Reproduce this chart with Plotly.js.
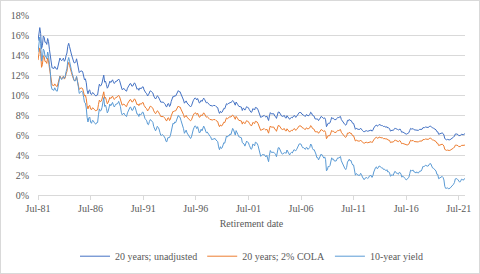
<!DOCTYPE html>
<html>
<head>
<meta charset="utf-8">
<script src="https://cdn.plot.ly/plotly-3.0.1.min.js"></script>
<style>
  html, body { margin: 0; padding: 0; background: #fff; }
  #wrap { position: relative; width: 480px; height: 274px; }
  #chart { width: 480px; height: 274px; }
  #frame { position: absolute; left: 0; top: 0; width: 478px; height: 272px; border: 1px solid #D9D9D9; pointer-events: none; }
</style>
</head>
<body>
<div id="wrap"><div id="chart"></div><div id="frame"></div></div>
<script>
// Monthly series, first month = July 1981
const startYear = 1981, startMonth = 7;

const seriesNames = ["20 years; unadjusted", "20 years; 2% COLA", "10-year yield"];

const unadjusted = [
15.42,15.99,16.74,16.17,14.64,14.93,
15.90,15.77,15.27,15.28,15.06,15.65,15.35,14.57,13.95,13.00,12.71,12.70,
12.64,12.85,12.68,12.59,12.57,12.95,13.29,13.70,13.52,13.43,13.56,13.68,
13.37,13.51,13.93,14.20,14.88,15.17,14.83,14.28,14.10,13.79,13.29,13.23,
13.21,13.32,13.62,13.25,12.79,12.24,12.36,12.37,12.41,12.30,11.93,11.52,
11.62,11.23,10.49,10.12,10.44,10.51,10.12,10.03,10.23,10.21,10.08,9.99,
9.89,10.01,10.01,10.61,11.08,10.91,10.95,11.20,11.73,11.99,11.28,11.38,
11.05,10.68,10.81,11.09,11.38,11.25,11.36,11.52,11.29,11.15,11.28,11.40,
11.38,11.45,11.60,11.45,11.20,10.73,10.53,10.60,10.66,10.52,10.41,10.38,
10.68,10.89,10.98,11.14,11.12,10.89,10.89,11.11,11.22,11.09,10.82,10.57,
10.66,10.47,10.68,10.62,10.65,10.81,10.81,10.51,10.31,10.21,10.13,9.90,
10.03,10.26,10.42,10.37,10.30,10.20,9.90,9.72,9.60,9.72,9.92,9.85,
9.73,9.49,9.29,9.28,9.33,9.28,9.17,9.08,8.85,8.83,9.11,9.14,
8.85,9.00,9.36,9.71,9.86,9.80,9.94,9.90,10.06,10.26,10.44,10.32,
10.33,10.10,9.91,9.81,9.50,9.18,9.26,9.41,9.20,9.09,9.01,8.85,
8.81,8.92,9.25,9.42,9.58,9.70,9.67,9.51,9.65,9.43,9.20,9.27,
9.47,9.36,9.55,9.69,9.56,9.41,9.21,9.27,9.21,9.08,8.97,8.92,
8.87,8.90,8.95,8.95,8.95,8.85,8.82,8.73,8.36,8.16,8.37,8.24,
8.29,8.49,8.66,8.62,8.87,9.13,9.05,9.16,9.14,9.28,9.22,9.40,
9.45,9.36,9.17,8.98,9.30,9.06,9.02,8.87,8.85,8.80,8.79,8.45,
8.68,8.63,8.49,8.66,8.84,8.76,8.73,8.54,8.37,8.26,8.32,8.63,
8.59,8.50,8.76,8.71,8.68,8.51,8.32,8.04,7.76,7.81,7.89,7.88,
7.96,7.86,7.79,7.90,7.62,7.45,7.91,8.24,8.12,8.13,8.14,8.12,
7.89,7.84,7.66,8.03,8.29,8.30,8.14,7.98,7.88,7.86,7.92,7.95,
7.73,7.69,7.93,7.81,7.67,7.57,7.70,7.76,7.71,7.90,7.95,7.91,
7.76,7.87,7.98,8.17,8.25,8.25,8.24,8.09,7.98,7.98,7.89,7.86,
8.04,8.01,7.90,7.99,8.03,8.28,8.21,7.98,7.87,7.88,7.61,7.57,
7.60,7.60,7.44,7.56,7.70,7.86,7.79,7.71,7.64,7.72,7.52,6.83,
6.97,7.18,7.15,7.21,7.46,7.76,7.65,7.67,7.54,7.53,7.54,7.67,
7.77,7.74,7.77,7.86,7.55,7.40,7.26,7.08,7.05,6.98,7.11,7.46,
7.42,7.56,7.44,7.47,7.26,7.16,7.16,6.76,6.57,6.67,6.59,6.57,
6.56,6.56,6.68,6.61,6.46,6.36,6.30,6.39,6.42,6.43,6.37,6.42,
6.47,6.51,6.50,6.38,6.48,6.70,6.86,6.95,7.00,6.88,6.94,7.05,
7.02,6.94,6.94,6.94,6.85,6.87,6.84,6.77,6.83,6.70,6.71,6.64,
6.39,6.45,6.49,6.43,6.58,6.67,6.65,6.56,6.56,6.50,6.61,6.60,
6.43,6.25,6.31,6.26,6.26,6.16,6.08,6.12,6.16,6.23,6.46,6.66,
6.60,6.59,6.63,6.52,6.52,6.46,6.53,6.47,6.46,6.56,6.55,6.58,
6.57,6.73,6.72,6.74,6.80,6.76,6.75,6.75,6.81,6.90,6.88,6.71,
6.70,6.68,6.62,6.60,6.52,6.33,6.32,6.07,6.11,6.12,6.18,6.21,
6.15,6.00,5.64,5.52,5.52,5.56,5.49,5.51,5.53,5.59,5.64,5.67,
5.79,5.89,6.10,6.11,6.10,6.05,5.93,5.91,5.96,6.08,6.07,6.02,
6.09,6.12
];

const cola = [
13.49,14.02,14.71,14.18,12.77,13.03,
13.93,13.81,13.35,13.36,13.16,13.70,13.42,12.70,12.13,11.25,10.99,10.98,
10.92,11.11,10.96,10.87,10.86,11.21,11.52,11.90,11.73,11.65,11.77,11.88,
11.59,11.72,12.11,12.36,12.99,13.26,12.94,12.43,12.27,11.98,11.52,11.46,
11.44,11.55,11.82,11.48,11.06,10.55,10.66,10.67,10.71,10.61,10.27,9.89,
9.98,9.63,8.95,8.61,8.90,8.96,8.61,8.52,8.71,8.69,8.57,8.49,
8.40,8.51,8.51,9.06,9.49,9.33,9.37,9.60,10.09,10.32,9.67,9.76,
9.46,9.12,9.24,9.50,9.76,9.64,9.75,9.89,9.68,9.55,9.67,9.78,
9.76,9.83,9.97,9.83,9.60,9.17,8.98,9.05,9.10,8.97,8.87,8.84,
9.12,9.31,9.40,9.54,9.52,9.31,9.31,9.52,9.62,9.50,9.25,9.02,
9.10,8.93,9.12,9.06,9.09,9.24,9.24,8.96,8.78,8.69,8.62,8.41,
8.52,8.73,8.88,8.84,8.77,8.68,8.41,8.24,8.13,8.24,8.42,8.36,
8.25,8.03,7.85,7.84,7.89,7.84,7.74,7.66,7.45,7.43,7.69,7.72,
7.45,7.59,7.92,8.23,8.37,8.32,8.44,8.41,8.55,8.73,8.90,8.79,
8.80,8.59,8.42,8.33,8.04,7.75,7.83,7.96,7.77,7.67,7.60,7.45,
7.42,7.52,7.82,7.97,8.12,8.22,8.20,8.05,8.18,7.98,7.77,7.83,
8.02,7.92,8.09,8.22,8.10,7.96,7.78,7.83,7.78,7.66,7.56,7.52,
7.47,7.50,7.54,7.54,7.54,7.45,7.43,7.34,7.01,6.83,7.02,6.90,
6.94,7.13,7.28,7.24,7.47,7.71,7.63,7.73,7.72,7.84,7.79,7.95,
8.00,7.92,7.74,7.57,7.86,7.64,7.61,7.47,7.45,7.41,7.40,7.09,
7.30,7.25,7.13,7.28,7.44,7.37,7.34,7.17,7.02,6.92,6.97,7.25,
7.22,7.14,7.37,7.33,7.30,7.14,6.97,6.72,6.46,6.51,6.58,6.57,
6.64,6.55,6.49,6.59,6.34,6.18,6.60,6.90,6.79,6.80,6.81,6.79,
6.58,6.54,6.37,6.71,6.94,6.95,6.81,6.66,6.57,6.55,6.61,6.64,
6.44,6.40,6.62,6.51,6.38,6.29,6.41,6.46,6.42,6.59,6.64,6.60,
6.46,6.56,6.66,6.84,6.91,6.91,6.90,6.76,6.66,6.66,6.58,6.55,
6.72,6.69,6.59,6.67,6.71,6.94,6.87,6.66,6.56,6.57,6.33,6.29,
6.32,6.32,6.17,6.28,6.41,6.55,6.49,6.42,6.35,6.43,6.25,5.63,
5.75,5.94,5.91,5.96,6.19,6.46,6.36,6.38,6.26,6.25,6.26,6.38,
6.47,6.44,6.47,6.55,6.27,6.14,6.01,5.85,5.82,5.76,5.88,6.19,
6.15,6.28,6.17,6.20,6.01,5.92,5.92,5.56,5.40,5.48,5.41,5.40,
5.39,5.39,5.49,5.43,5.30,5.21,5.16,5.24,5.26,5.27,5.22,5.26,
5.31,5.34,5.33,5.23,5.32,5.51,5.65,5.73,5.78,5.67,5.72,5.82,
5.80,5.72,5.72,5.72,5.64,5.66,5.64,5.57,5.63,5.51,5.52,5.46,
5.24,5.29,5.32,5.27,5.40,5.48,5.47,5.39,5.39,5.33,5.43,5.42,
5.27,5.11,5.16,5.12,5.12,5.03,4.96,5.00,5.03,5.09,5.30,5.48,
5.42,5.41,5.45,5.35,5.35,5.30,5.36,5.31,5.30,5.39,5.38,5.40,
5.40,5.54,5.53,5.55,5.60,5.56,5.56,5.56,5.61,5.69,5.67,5.52,
5.51,5.49,5.44,5.42,5.35,5.18,5.17,4.95,4.99,5.00,5.05,5.08,
5.02,4.88,4.56,4.46,4.46,4.49,4.43,4.45,4.47,4.52,4.56,4.59,
4.70,4.79,4.98,4.99,4.98,4.94,4.83,4.81,4.86,4.96,4.96,4.91,
4.97,5.00
];

const yield10 = [
14.28,14.94,15.80,15.15,13.39,13.72,
14.59,14.43,13.86,13.87,13.62,14.30,13.95,13.06,12.34,10.91,10.55,10.54,
10.46,10.72,10.51,10.40,10.38,10.85,11.38,11.85,11.65,11.54,11.69,11.83,
11.67,11.84,12.32,12.63,13.41,13.75,13.36,12.72,12.52,12.16,11.57,11.50,
11.38,11.51,11.86,11.43,10.85,10.16,10.31,10.33,10.37,10.24,9.78,9.26,
9.19,8.70,7.78,7.30,7.71,7.80,7.30,7.17,7.45,7.43,7.25,7.11,
7.08,7.25,7.25,8.02,8.61,8.40,8.45,8.76,9.42,9.75,8.86,8.99,
8.67,8.21,8.37,8.72,9.09,8.92,9.06,9.26,8.98,8.80,8.96,9.11,
9.09,9.17,9.36,9.18,8.86,8.28,8.02,8.11,8.19,8.01,7.87,7.84,
8.21,8.47,8.59,8.79,8.76,8.48,8.47,8.75,8.89,8.72,8.39,8.08,
8.09,7.85,8.11,8.04,8.07,8.28,8.27,7.90,7.65,7.53,7.42,7.09,
7.03,7.34,7.54,7.48,7.39,7.26,6.84,6.59,6.42,6.59,6.87,6.77,
6.60,6.26,5.98,5.97,6.04,5.96,5.81,5.68,5.36,5.33,5.72,5.77,
5.75,5.97,6.48,6.97,7.18,7.10,7.30,7.24,7.46,7.74,7.96,7.81,
7.78,7.47,7.20,7.06,6.63,6.17,6.28,6.49,6.20,6.04,5.93,5.71,
5.65,5.81,6.27,6.51,6.74,6.91,6.87,6.64,6.83,6.53,6.20,6.30,
6.58,6.42,6.69,6.89,6.71,6.49,6.22,6.30,6.21,6.03,5.88,5.81,
5.54,5.57,5.65,5.64,5.65,5.50,5.46,5.34,4.81,4.53,4.83,4.65,
4.72,5.00,5.23,5.18,5.54,5.90,5.79,5.94,5.92,6.11,6.03,6.28,
6.66,6.52,6.26,5.99,6.44,6.10,6.05,5.83,5.80,5.74,5.72,5.24,
5.16,5.10,4.89,5.14,5.39,5.28,5.24,4.97,4.73,4.57,4.65,5.09,
5.04,4.91,5.28,5.21,5.16,4.93,4.65,4.26,3.87,3.94,4.05,4.03,
4.05,3.90,3.81,3.96,3.57,3.33,3.98,4.45,4.27,4.29,4.30,4.27,
4.15,4.08,3.83,4.35,4.72,4.73,4.50,4.28,4.13,4.10,4.19,4.23,
4.22,4.17,4.50,4.34,4.14,4.00,4.18,4.26,4.20,4.46,4.54,4.47,
4.42,4.57,4.72,4.99,5.11,5.11,5.09,4.88,4.72,4.73,4.60,4.56,
4.76,4.72,4.56,4.69,4.75,5.10,5.00,4.67,4.52,4.53,4.15,4.10,
3.74,3.74,3.51,3.68,3.88,4.10,4.01,3.89,3.69,3.81,3.53,2.42,
2.52,2.87,2.82,2.93,3.29,3.72,3.56,3.59,3.40,3.39,3.40,3.59,
3.73,3.69,3.73,3.85,3.42,3.20,3.01,2.70,2.65,2.54,2.76,3.29,
3.39,3.58,3.41,3.46,3.17,3.00,3.00,2.30,1.98,2.15,2.01,1.98,
1.97,1.97,2.17,2.05,1.80,1.62,1.53,1.68,1.72,1.75,1.65,1.72,
1.91,1.98,1.96,1.76,1.93,2.30,2.58,2.74,2.81,2.62,2.72,2.90,
2.86,2.71,2.72,2.71,2.56,2.60,2.54,2.42,2.53,2.30,2.33,2.21,
1.88,1.98,2.04,1.94,2.20,2.36,2.32,2.17,2.17,2.07,2.26,2.24,
2.09,1.78,1.89,1.81,1.81,1.64,1.50,1.56,1.63,1.76,2.14,2.49,
2.43,2.42,2.48,2.30,2.30,2.19,2.32,2.21,2.20,2.36,2.35,2.40,
2.58,2.86,2.84,2.87,2.98,2.91,2.89,2.89,3.00,3.15,3.12,2.83,
2.71,2.68,2.57,2.53,2.40,2.07,2.06,1.63,1.70,1.71,1.81,1.86,
1.76,1.50,0.87,0.66,0.67,0.73,0.62,0.65,0.68,0.79,0.87,0.93,
1.08,1.26,1.61,1.64,1.62,1.52,1.32,1.28,1.37,1.58,1.56,1.47,
1.60,1.65
];

const yTickVals = [0,2,4,6,8,10,12,14,16,18];
const yTickText = ["0%","2%","4%","6%","8%","10%","12%","14%","16%","18%"];

function monthDates(n) {
  const out = [];
  for (let i = 0; i < n; i++) {
    const m0 = startMonth - 1 + i;
    const y = startYear + Math.floor(m0 / 12);
    const m = (m0 % 12) + 1;
    out.push(y + "-" + String(m).padStart(2, "0") + "-01");
  }
  return out;
}
const dates = monthDates(yield10.length);
const xTickVals = [];
const xTickText = [];
for (let y = 1981; y <= 2021; y += 5) {
  xTickVals.push(y + "-07-01");
  xTickText.push("Jul-" + String(y % 100).padStart(2, "0"));
}

const FONT = "Times New Roman, Liberation Serif, serif";
const colors = ["#4472C4", "#ED7D31", "#5B9BD5"];
const values = [unadjusted, cola, yield10];

const traces = values.map((v, i) => ({
  type: "scatter", mode: "lines",
  x: dates, y: v, name: seriesNames[i],
  line: { color: colors[i], width: 1 },
  hoverinfo: "skip"
}));

const layout = {
  width: 480, height: 274,
  margin: { l: 38, r: 15, t: 15, b: 79, autoexpand: false },
  paper_bgcolor: "#ffffff", plot_bgcolor: "#ffffff",
  font: { family: FONT, size: 10, color: "#595959" },
  showlegend: true,
  legend: {
    orientation: "h", x: 0.5, xanchor: "center", y: -0.34, yanchor: "middle",
    font: { family: FONT, size: 10, color: "#595959" },
    itemwidth: 30, tracegroupgap: 0
  },
  xaxis: {
    type: "date", automargin: false,
    range: [dates[0], dates[dates.length - 1]],
    tickvals: xTickVals, ticktext: xTickText,
    ticks: "outside", ticklen: 4, tickcolor: "#D9D9D9", tickwidth: 1,
    ticklabelstandoff: 0,
    showline: true, linecolor: "#D9D9D9", linewidth: 1,
    showgrid: false, zeroline: false,
    tickfont: { family: FONT, size: 10, color: "#595959" },
    title: { text: "Retirement date", font: { family: FONT, size: 10, color: "#595959" }, standoff: 6 }
  },
  yaxis: {
    range: [0, 18], automargin: false,
    tickvals: yTickVals, ticktext: yTickText,
    showgrid: true, gridcolor: "#D9D9D9", gridwidth: 1,
    zeroline: false, showline: false, ticks: "",
    ticklabelstandoff: 8,
    tickfont: { family: FONT, size: 10, color: "#595959" }
  }
};

Plotly.newPlot("chart", traces, layout, { displayModeBar: false, staticPlot: true });
</script>
</body>
</html>
